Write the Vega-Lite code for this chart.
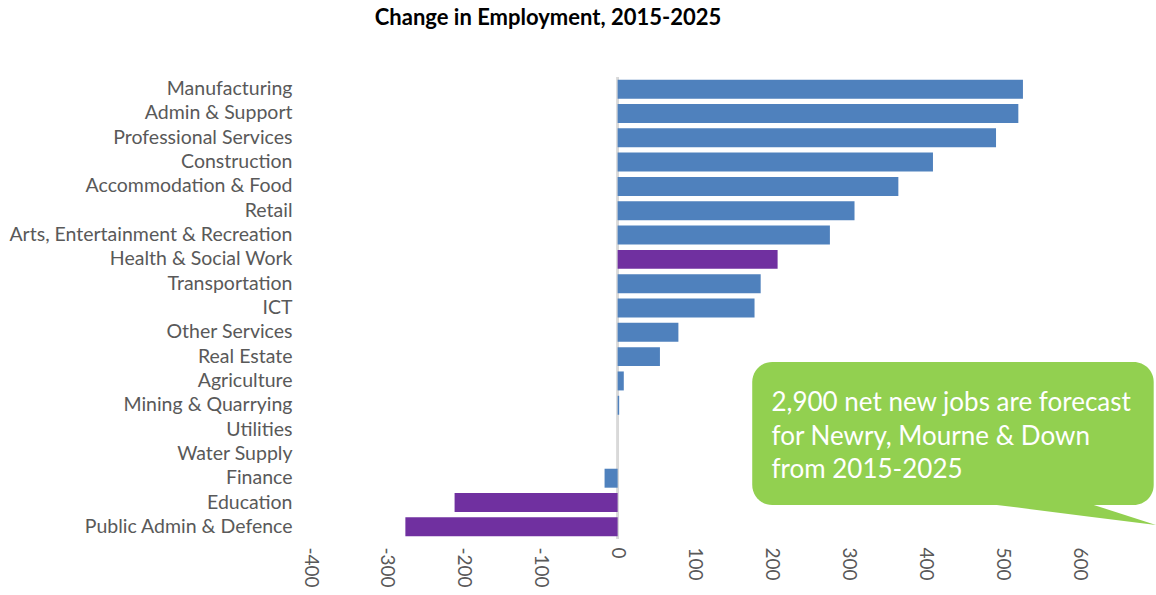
{
  "$schema": "https://vega.github.io/schema/vega-lite/v6.json",
  "width": 846,
  "height": 462,
  "autosize": {"type": "none"},
  "padding": {"left": 310, "top": 77, "right": 0, "bottom": 56},
  "background": "white",
  "config": {"view": {"stroke": null}, "font": "Lato"},
  "title": {
    "text": "Change in Employment, 2015-2025",
    "fontSize": 22,
    "fontWeight": "bold",
    "font": "Lato",
    "color": "#000000",
    "anchor": "middle",
    "frame": "group",
    "dx": -185,
    "offset": 46
  },
  "layer": [
    {
      "data": {
        "values": [
          {"sector": "Manufacturing", "change": 527, "group": "other"},
          {"sector": "Admin & Support", "change": 521, "group": "other"},
          {"sector": "Professional Services", "change": 492, "group": "other"},
          {"sector": "Construction", "change": 410, "group": "other"},
          {"sector": "Accommodation & Food\u00a0", "change": 365, "group": "other"},
          {"sector": "Retail", "change": 308, "group": "other"},
          {"sector": "Arts, Entertainment & Recreation", "change": 276, "group": "other"},
          {"sector": "Health & Social Work\u00a0", "change": 208, "group": "highlight"},
          {"sector": "Transportation", "change": 186, "group": "other"},
          {"sector": "ICT", "change": 178, "group": "other"},
          {"sector": "Other Services", "change": 79, "group": "other"},
          {"sector": "Real Estate\u00a0", "change": 55, "group": "other"},
          {"sector": "Agriculture", "change": 8, "group": "other"},
          {"sector": "Mining & Quarrying", "change": 2, "group": "other"},
          {"sector": "Utilities", "change": 0, "group": "other"},
          {"sector": "Water Supply", "change": 0, "group": "other"},
          {"sector": "Finance", "change": -17, "group": "other"},
          {"sector": "Education", "change": -212, "group": "highlight"},
          {"sector": "Public Admin & Defence", "change": -276, "group": "highlight"}
        ]
      },
      "layer": [
        {
          "mark": {"type": "rule", "color": "#D9D9D9", "strokeWidth": 1.5},
          "encoding": {"x": {"datum": 0, "type": "quantitative", "axis": null}}
        },
        {
          "mark": {"type": "bar"},
          "encoding": {
            "y": {
              "field": "sector",
              "type": "nominal",
              "sort": null,
              "scale": {"paddingInner": 0.22, "paddingOuter": 0.11},
              "axis": {
                "title": null,
                "domain": false,
                "ticks": false,
                "grid": false,
                "labelFontSize": 19.5,
                "labelColor": "#595959",
                "labelPadding": 18,
                "labelFont": "Lato",
                "labelLimit": 400
              }
            },
            "x": {
              "field": "change",
              "type": "quantitative",
              "scale": {"domain": [-400, 700], "nice": false, "zero": false},
              "axis": {
                "title": null,
                "values": [-400, -300, -200, -100, 0, 100, 200, 300, 400, 500, 600],
                "labelExpr": "replace(datum.label, '\u2212', '-')",
                "labelAngle": 90,
                "domain": false,
                "ticks": false,
                "grid": false,
                "labelFontSize": 19,
                "labelColor": "#595959",
                "labelPadding": 8,
                "labelFont": "Lato"
              }
            },
            "color": {
              "field": "group",
              "type": "nominal",
              "scale": {"domain": ["other", "highlight"], "range": ["#4F81BD", "#7030A0"]},
              "legend": null
            }
          }
        }
      ],
      "resolve": {"axis": {"x": "independent"}}
    },
    {
      "data": {"values": [{"x": 175, "x2": 697, "y": 11.72, "y2": 17.6}]},
      "mark": {"type": "rect", "color": "#92D050", "cornerRadius": 20},
      "encoding": {
        "x": {"field": "x", "type": "quantitative", "axis": null},
        "x2": {"field": "x2"},
        "y": {"field": "y", "type": "quantitative", "scale": {"domain": [0, 19], "reverse": true, "nice": false, "zero": false}, "axis": null},
        "y2": {"field": "y2"}
      }
    },
    {
      "data": {
        "values": [
          {"x": 493, "y": 17.55, "y2": 17.6},
          {"x": 614, "y": 17.55, "y2": 18.08},
          {"x": 700, "y": 18.42, "y2": 18.42}
        ]
      },
      "mark": {"type": "area", "color": "#92D050", "orient": "vertical", "interpolate": "linear"},
      "encoding": {
        "x": {"field": "x", "type": "quantitative", "axis": null},
        "y": {"field": "y", "type": "quantitative", "scale": {"domain": [0, 19], "reverse": true, "nice": false, "zero": false}, "axis": null},
        "y2": {"field": "y2"}
      }
    },
    {
      "data": {
        "values": [
          {"x": 200, "y": 13.73, "line": "2,900 net new jobs are forecast"},
          {"x": 200, "y": 15.13, "line": "for Newry, Mourne & Down"},
          {"x": 200, "y": 16.49, "line": "from 2015-2025"}
        ]
      },
      "mark": {"type": "text", "color": "white", "fontSize": 26, "font": "Lato", "align": "left", "baseline": "alphabetic"},
      "encoding": {
        "x": {"field": "x", "type": "quantitative", "axis": null},
        "y": {"field": "y", "type": "quantitative", "scale": {"domain": [0, 19], "reverse": true, "nice": false, "zero": false}, "axis": null},
        "text": {"field": "line"}
      }
    }
  ],
  "resolve": {"scale": {"y": "independent"}, "axis": {"x": "independent"}}
}
